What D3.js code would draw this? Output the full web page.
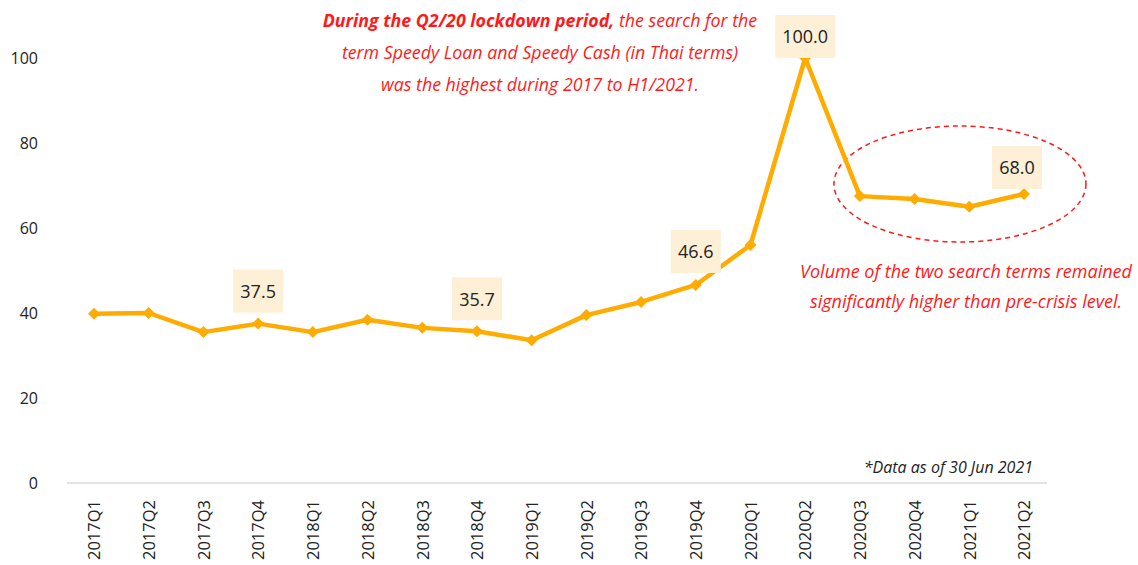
<!DOCTYPE html>
<html>
<head>
<meta charset="utf-8">
<script src="https://cdn.jsdelivr.net/npm/d3@7"></script>
<style>
  body { margin: 0; background: #fff; }
  svg { display: block; font-family: "Open Sans", "Noto Sans", sans-serif; }
</style>
</head>
<body>
<svg id="chart"></svg>
<script>
const quarters = ["2017Q1", "2017Q2", "2017Q3", "2017Q4", "2018Q1", "2018Q2", "2018Q3", "2018Q4",
    "2019Q1", "2019Q2", "2019Q3", "2019Q4", "2020Q1", "2020Q2", "2020Q3", "2020Q4", "2021Q1", "2021Q2"];
const searchIndex = [39.8, 40.0, 35.5, 37.5, 35.5, 38.4, 36.5, 35.7,
    33.6, 39.5, 42.6, 46.6, 56.0, 100.0, 67.5, 66.8, 65.0, 68.0];
const labelled = ["2017Q4", "2018Q4", "2019Q4", "2020Q2", "2021Q2"];
const yTicks = [0, 20, 40, 60, 80, 100];

const width = 1138, height = 565;
const margin = { top: 58, right: 88, bottom: 82, left: 67 };

const lineColor = "#ffab00";
const red = "#ff1a1a";

// gap between each label box and its point
const labelGap = { "2017Q4": 11, "2018Q4": 11, "2019Q4": 12, "2020Q2": 0, "2021Q2": 5 };

const svg = d3.select("#chart")
    .attr("width", width)
    .attr("height", height);

const x = d3.scalePoint()
    .domain(quarters)
    .range([94, 1024]);

const y = d3.scaleLinear()
    .domain([0, 100])
    .range([height - margin.bottom, margin.top]);

// y axis, labels only
svg.append("g")
    .attr("transform", `translate(${margin.left},0)`)
    .call(d3.axisLeft(y).tickValues(yTicks).tickSize(0).tickPadding(29))
    .call(g => g.select(".domain").remove())
    .selectAll("text")
    .style("font-size", "16px")
    .style("font-family", "Open Sans")
    .attr("fill", "#222");

// baseline
svg.append("line")
    .attr("x1", margin.left)
    .attr("x2", 1047)
    .attr("y1", y(0))
    .attr("y2", y(0))
    .attr("stroke", "#d9d9d9")
    .attr("stroke-width", 1.5);

// x axis labels, rotated
svg.append("g")
    .attr("transform", `translate(0,${y(0)})`)
    .call(d3.axisBottom(x).tickSize(0).tickPadding(0))
    .call(g => g.select(".domain").remove())
    .selectAll("text")
    .style("font-size", "16.5px")
    .style("font-family", "Open Sans")
    .attr("fill", "#222")
    .attr("transform", "rotate(-90)")
    .attr("text-anchor", "end")
    .attr("x", -17)
    .attr("y", 0)
    .attr("dy", "0.35em");

// dashed ellipse around recent quarters
svg.append("ellipse")
    .attr("cx", (x("2020Q3") + x("2021Q2")) / 2 + 18)
    .attr("cy", y(68) - 10)
    .attr("rx", 126)
    .attr("ry", 58)
    .attr("fill", "none")
    .attr("stroke", red)
    .attr("stroke-width", 1.5)
    .attr("stroke-dasharray", "5,4");

const data = quarters.map((q, i) => ({ q, v: searchIndex[i] }));

const line = d3.line()
    .x(d => x(d.q))
    .y(d => y(d.v));

svg.append("path")
    .datum(data)
    .attr("d", line)
    .attr("fill", "none")
    .attr("stroke", lineColor)
    .attr("stroke-width", 4.5)
    .attr("stroke-linejoin", "round");

svg.selectAll(".marker")
    .data(data)
    .join("path")
    .attr("class", "marker")
    .attr("d", d3.symbol(d3.symbolSquare, 72))
    .attr("transform", d => `translate(${x(d.q)},${y(d.v)}) rotate(45)`)
    .attr("fill", lineColor);

// value labels on cream boxes
const labels = svg.selectAll(".vlabel")
    .data(data.filter(d => labelled.includes(d.q)))
    .join("g")
    .attr("class", "vlabel")
    .attr("transform", d => `translate(${x(d.q) - (d.q === "2021Q2" ? 7 : 0)},${y(d.v) - labelGap[d.q]})`);

labels.append("rect")
    .attr("x", d => d.v >= 100 ? -30 : -25)
    .attr("width", d => d.v >= 100 ? 60 : 50)
    .attr("y", -43)
    .attr("height", 43)
    .attr("fill", "#fdf0d6");

labels.append("text")
    .attr("y", -21)
    .attr("dy", "0.35em")
    .attr("text-anchor", "middle")
    .style("font-size", "18px")
    .attr("fill", "#222")
    .text(d => d.v.toFixed(1));

// annotation, top
const topNote = svg.append("text")
    .attr("text-anchor", "middle")
    .style("font-size", "17.8px")
    .style("font-style", "italic")
    .attr("fill", red);

const t1 = topNote.append("tspan").attr("x", 540).attr("y", 27);
t1.append("tspan").style("font-weight", "bold").text("During the Q2/20 lockdown period,");
t1.append("tspan").text(" the search for the");
topNote.append("tspan").attr("x", 540).attr("y", 59)
    .text("term Speedy Loan and Speedy Cash (in Thai terms)");
topNote.append("tspan").attr("x", 540).attr("y", 91)
    .text("was the highest during 2017 to H1/2021.");

// annotation, right
const sideNote = svg.append("text")
    .attr("text-anchor", "middle")
    .style("font-size", "18px")
    .style("font-style", "italic")
    .attr("fill", red);

sideNote.append("tspan").attr("x", 966).attr("y", 278)
    .text("Volume of the two search terms remained");
sideNote.append("tspan").attr("x", 966).attr("y", 308)
    .text("significantly higher than pre-crisis level.");

// footnote
svg.append("text")
    .attr("x", 1033)
    .attr("y", 473)
    .attr("text-anchor", "end")
    .style("font-size", "16px")
    .style("font-style", "italic")
    .attr("fill", "#222")
    .text("*Data as of 30 Jun 2021");
</script>
</body>
</html>
